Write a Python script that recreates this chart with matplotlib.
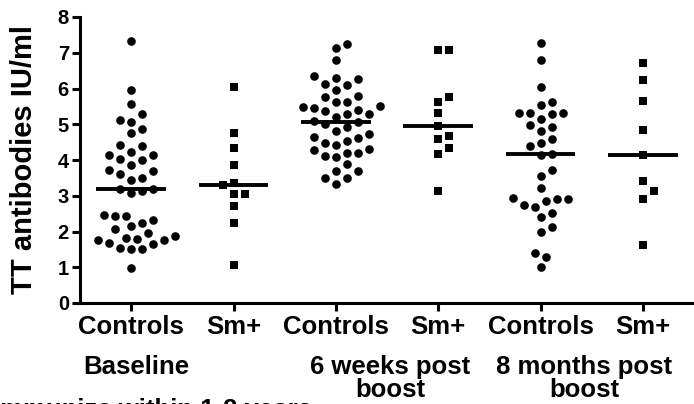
import numpy as np
import matplotlib
matplotlib.use("Agg")
import matplotlib.pyplot as plt
from matplotlib.transforms import blended_transform_factory

plt.rcParams['font.family'] = ['Liberation Sans', 'DejaVu Sans']
plt.rcParams['font.weight'] = 'bold'

# TT antibody levels (IU/ml)
baseline_controls = [7.34, 5.95, 5.56, 5.28, 5.11, 5.06, 4.88, 4.75, 4.42, 4.38, 4.21,
                     4.13, 4.13, 4.03, 4.00, 3.85, 3.73, 3.68, 3.62, 3.50, 3.43, 3.20,
                     3.20, 3.13, 3.08, 2.47, 2.43, 2.43, 2.31, 2.25, 2.16, 2.07, 1.96,
                     1.88, 1.81, 1.79, 1.75, 1.75, 1.69, 1.64, 1.53, 1.51, 1.51, 0.99]
baseline_sm = [6.05, 4.75, 4.34, 3.85, 3.36, 3.30, 3.05, 3.05, 2.70, 2.24, 1.05]
wk6_controls = [7.24, 7.12, 6.80, 6.35, 6.30, 6.26, 6.12, 6.09, 5.96, 5.78, 5.75,
                5.62, 5.62, 5.51, 5.49, 5.45, 5.40, 5.37, 5.30, 5.30, 5.21, 5.09,
                5.06, 5.00, 4.91, 4.81, 4.72, 4.65, 4.62, 4.54, 4.47, 4.43, 4.30,
                4.28, 4.20, 4.20, 4.11, 4.07, 3.88, 3.69, 3.69, 3.50, 3.50, 3.34]
wk6_sm = [7.07, 7.07, 5.77, 5.62, 5.31, 4.95, 4.67, 4.58, 4.34, 4.18, 3.13]
mo8_controls = [7.27, 6.79, 6.03, 5.61, 5.55, 5.32, 5.31, 5.31, 5.30, 5.16, 4.97,
                4.93, 4.80, 4.58, 4.48, 4.39, 4.18, 4.15, 3.71, 3.55, 3.22, 2.93,
                2.91, 2.91, 2.84, 2.75, 2.68, 2.52, 2.40, 2.12, 1.99, 1.41, 1.30, 1.00]
mo8_sm = [6.71, 6.24, 5.64, 4.84, 4.13, 3.40, 3.14, 2.91, 1.62]

groups = [baseline_controls, baseline_sm, wk6_controls, wk6_sm, mo8_controls, mo8_sm]
markers = ['o', 's', 'o', 's', 'o', 's']
tick_labels = ['Controls', 'Sm+', 'Controls', 'Sm+', 'Controls', 'Sm+']
period_labels = ['Baseline', '6 weeks post\nboost', '8 months post\nboost']
period_pos = [1.05, 3.53, 5.43]

W, H = 694, 404
fig = plt.figure(figsize=(W / 100, H / 100), dpi=100)
ax = fig.add_axes([80 / W, (H - 303) / H, 614 / W, 286 / H])
ax.set_xlim(0.5, 6.5)
ax.set_ylim(0, 8)

# pixels per data unit, used to spread points like a dot plot
xpx = 614 / 6.0
ypx = 286 / 8.0


def swarm(vals, center, d=11.0):
    vals = np.asarray(vals, dtype=float)
    xs = np.zeros(len(vals))
    placed = []
    step = d / 2
    for i in np.argsort(vals):
        y = vals[i] * ypx
        off = 0.0
        for k in range(60):
            cands = [0.0] if k == 0 else [k * step, -k * step]
            ok = None
            for c in cands:
                if all((c - px) ** 2 + (y - py) ** 2 >= d * d for px, py in placed):
                    ok = c
                    break
            if ok is not None:
                off = ok
                break
        placed.append((off, y))
        xs[i] = center + off / xpx
    return xs


for i, (vals, m) in enumerate(zip(groups, markers)):
    pos = i + 1
    xs = swarm(vals, pos)
    ms = 6.2 if m == 'o' else 6.4
    ax.plot(xs, vals, m, color='black', ms=ms, mew=0, linestyle='none')
    med = np.median(vals)
    ax.plot([pos - 0.34, pos + 0.34], [med, med], color='black', lw=2.8,
            solid_capstyle='butt')

ax.spines['top'].set_visible(False)
ax.spines['right'].set_visible(False)
ax.spines['left'].set_linewidth(2.2)
ax.spines['bottom'].set_linewidth(2.2)
ax.set_xticks(range(1, 7))
ax.set_xticklabels(tick_labels)
ax.set_yticks(range(0, 9))
ax.tick_params(axis='x', length=6, width=2.2, pad=3, labelsize=18.5)
ax.tick_params(axis='y', length=6, width=2.2, pad=2, labelsize=14.5)

ax.set_ylabel('TT antibodies IU/ml', fontsize=21, fontweight='bold', va='center')
ax.yaxis.set_label_coords(-56 / 614, 0.5)

trans = blended_transform_factory(ax.transData, fig.transFigure)
for lab, p in zip(period_labels, period_pos):
    ax.text(p, (H - 355) / H, lab, transform=trans, ha='center', va='top',
            fontsize=18.5, linespacing=0.95, multialignment='center')

fig.text(312 / W, (H - 398) / H, 'Immunize within 1-2 years', ha='right', va='top',
         fontsize=18.5)

fig.savefig('out.png', dpi=100)
